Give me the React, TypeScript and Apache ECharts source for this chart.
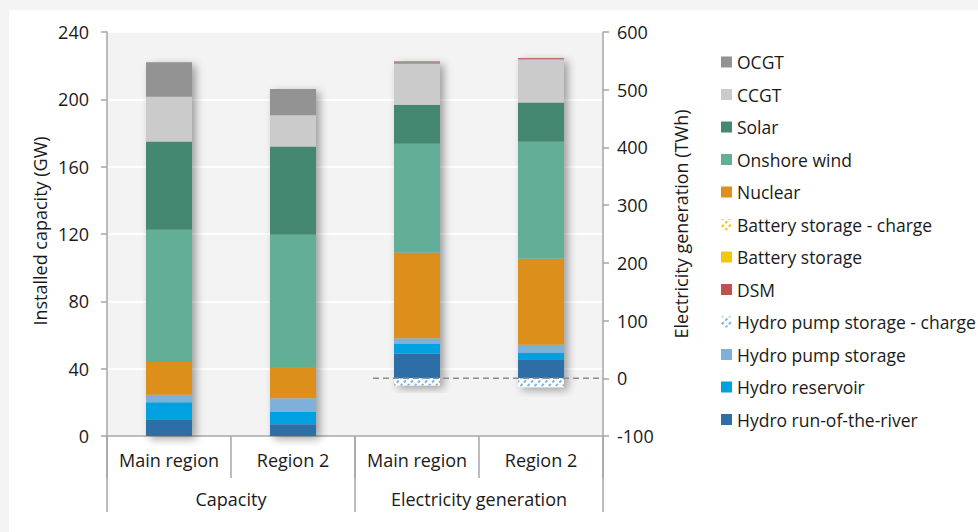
import React, { useEffect, useRef } from 'react';
import * as echarts from 'echarts';

// Category structure
const regions = ['Main region', 'Region 2'];
const groups = ['Capacity', 'Electricity generation'];
const categories = ['Main region', 'Region 2', 'Main region', 'Region 2'];

// Values per category: [capacity main (GW), capacity region 2 (GW), generation main (TWh), generation region 2 (TWh)]
const hydroRunOfRiver = [10, 7, 43, 33];
const hydroReservoir = [10, 7.5, 16.5, 11];
const hydroPumpStorage = [4.5, 8, 10, 14];
const hydroPumpCharge = [0, 0, -12.5, -15.5];
const batteryStorage = [0, 0, 0, 0];
const batteryCharge = [0, 0, 0, 0];
const nuclear = [19.5, 18.5, 148, 149];
const onshoreWind = [78.5, 78.5, 189, 203];
const solar = [52.5, 52.5, 67.5, 68];
const ccgt = [26.5, 18.5, 71, 74.5];
const ocgt = [20.5, 15.7, 3, 1];
const dsm = [0, 0, 1, 1.5];

// Axis ticks
const capacityAxis = { min: 0, max: 240, interval: 40 };
const generationAxis = { min: -100, max: 600, interval: 100 };

const FONT = '"Open Sans", "Noto Sans", sans-serif';
const FS = 18;
const TEXT = '#1a1a1a';
const AXIS = '#a6a6a6';
const BAR_W = 46;

type Tech = { name: string; values: number[]; color: string; hatch?: string };
const techs: Tech[] = [
  { name: 'Hydro run-of-the-river', values: hydroRunOfRiver, color: '#2e6ea6' },
  { name: 'Hydro reservoir', values: hydroReservoir, color: '#00a0e1' },
  { name: 'Hydro pump storage', values: hydroPumpStorage, color: '#7fb0da' },
  { name: 'Hydro pump storage - charge', values: hydroPumpCharge, color: '#ffffff', hatch: '#7fb3e2' },
  { name: 'Battery storage', values: batteryStorage, color: '#f2c80f' },
  { name: 'Battery storage - charge', values: batteryCharge, color: '#ffffff', hatch: '#f2c80f' },
  { name: 'Nuclear', values: nuclear, color: '#dc8f1a' },
  { name: 'Onshore wind', values: onshoreWind, color: '#62ae96' },
  { name: 'Solar', values: solar, color: '#458872' },
  { name: 'CCGT', values: ccgt, color: '#cbcbcb' },
  { name: 'OCGT', values: ocgt, color: '#939393' },
  { name: 'DSM', values: dsm, color: '#c0504d' },
];

const legendOrder = [
  'OCGT', 'CCGT', 'Solar', 'Onshore wind', 'Nuclear', 'Battery storage - charge', 'Battery storage',
  'DSM', 'Hydro pump storage - charge', 'Hydro pump storage', 'Hydro reservoir', 'Hydro run-of-the-river',
];

const decalFor = (c: string) => ({
  symbol: 'rect',
  symbolSize: 1,
  color: c,
  backgroundColor: '#ffffff',
  dashArrayX: [[3, 1.5]],
  dashArrayY: [1.2, 2.8],
  rotation: -Math.PI / 4,
});

const sumPos = (i: number) => techs.reduce((s, t) => s + Math.max(0, t.values[i]), 0);
const sumNeg = (i: number) => techs.reduce((s, t) => s + Math.min(0, t.values[i]), 0);
const orDash = (v: number) => (v === 0 ? '-' : v);

const shadowStyle = {
  color: '#d0d0d0',
  shadowBlur: 8,
  shadowColor: 'rgba(0,0,0,0.35)',
  shadowOffsetX: 4,
  shadowOffsetY: 3,
};

export default function App() {
  const ref = useRef<HTMLDivElement>(null);
  useEffect(() => {
    if (!ref.current) return;
    const chart = echarts.init(ref.current, undefined, { renderer: 'svg' });

    const series: any[] = [];
    // shadow backdrops
    series.push({
      type: 'bar', name: '_shadowCap', xAxisIndex: 0, yAxisIndex: 0, barWidth: BAR_W, barGap: '-100%',
      silent: true, data: [sumPos(0), sumPos(1), '-', '-'], itemStyle: shadowStyle,
    });
    series.push({
      type: 'bar', name: '_shadowGenPos', xAxisIndex: 1, yAxisIndex: 1, barWidth: BAR_W, barGap: '-100%',
      silent: true, data: ['-', '-', sumPos(2), sumPos(3)], itemStyle: shadowStyle,
    });
    series.push({
      type: 'bar', name: '_shadowGenNeg', xAxisIndex: 1, yAxisIndex: 1, barWidth: BAR_W, barGap: '-100%',
      silent: true, data: ['-', '-', orDash(sumNeg(2)), orDash(sumNeg(3))], itemStyle: shadowStyle,
    });

    techs.forEach((t) => {
      const itemStyle: any = { color: t.color };
      if (t.hatch) itemStyle.decal = decalFor(t.hatch);
      series.push({
        type: 'bar', name: t.name, stack: 'cap', xAxisIndex: 0, yAxisIndex: 0, barWidth: BAR_W, barGap: '-100%',
        data: [orDash(t.values[0]), orDash(t.values[1]), '-', '-'], itemStyle,
      });
      series.push({
        type: 'bar', name: t.name, stack: 'gen', xAxisIndex: 1, yAxisIndex: 1, barWidth: BAR_W, barGap: '-100%',
        data: ['-', '-', orDash(t.values[2]), orDash(t.values[3])], itemStyle,
      });
    });

    const labelStyle = { fontFamily: FONT, fontSize: FS, color: TEXT };

    chart.setOption({
      animation: false,
      backgroundColor: '#f4f4f4',
      textStyle: { fontFamily: FONT },
      grid: {
        left: 107, right: 375, top: 32, bottom: 96, containLabel: false,
        show: true, backgroundColor: '#f3f3f3', borderWidth: 0,
      },
      legend: {
        data: legendOrder.map((name) => ({ name, icon: 'rect' })),
        orient: 'vertical', left: 716, top: 47, itemWidth: 11, itemHeight: 11, itemGap: 12.5,
        selectedMode: false,
        textStyle: { ...labelStyle, fontSize: 17.5, lineHeight: 20 },
      },
      xAxis: [
        {
          type: 'category', data: categories, position: 'bottom',
          axisLine: { show: true, lineStyle: { color: AXIS, width: 1.5 } },
          axisTick: { show: true, length: 42, lineStyle: { color: AXIS, width: 1.5 } },
          axisLabel: { ...labelStyle, margin: 15, interval: 0, hideOverlap: false, formatter: (_v: string, i: number) => regions[i % regions.length] },
        },
        { type: 'category', data: categories, position: 'bottom', show: false },
        {
          type: 'category', data: groups, position: 'bottom',
          axisLine: { show: false },
          axisTick: { show: true, length: 76, lineStyle: { color: AXIS, width: 1.5 } },
          axisLabel: { ...labelStyle, margin: 54, interval: 0 },
        },
      ],
      yAxis: [
        {
          type: 'value', position: 'left', ...capacityAxis,
          axisLine: { show: true, lineStyle: { color: AXIS, width: 1.5 } },
          axisTick: { show: true, length: 6, lineStyle: { color: AXIS, width: 1.5 } },
          axisLabel: { ...labelStyle, margin: 18 },
          splitLine: { show: true, lineStyle: { color: '#ffffff', width: 2 } },
        },
        {
          type: 'value', position: 'right', ...generationAxis,
          axisLine: { show: true, lineStyle: { color: AXIS, width: 1.5 } },
          axisTick: { show: true, length: 6, lineStyle: { color: AXIS, width: 1.5 } },
          axisLabel: { ...labelStyle, margin: 14 },
          splitLine: { show: false },
        },
      ],
      graphic: [
        { id: 'panel', type: 'rect', z: -100, silent: true, shape: { x: 9, y: 10, width: 969, height: 522 }, style: { fill: '#ffffff' } },
        {
          id: 'ytitleL', type: 'text', x: 40, y: 231, rotation: Math.PI / 2,
          style: { text: 'Installed capacity (GW)', fontFamily: FONT, fontSize: FS, fill: TEXT, align: 'center', verticalAlign: 'middle' },
        },
        {
          id: 'ytitleR', type: 'text', x: 681, y: 224, rotation: Math.PI / 2,
          style: { text: 'Electricity generation (TWh)', fontFamily: FONT, fontSize: FS, fill: TEXT, align: 'center', verticalAlign: 'middle' },
        },
      ],
      series,
    });

    // zero line of the generation axis, placed through the library's scales
    const y0 = chart.convertToPixel({ yAxisIndex: 1 }, 0) as number;
    const c2 = chart.convertToPixel({ xAxisIndex: 1 }, 2) as number;
    const c3 = chart.convertToPixel({ xAxisIndex: 1 }, 3) as number;
    const step = c3 - c2;
    chart.setOption({
      graphic: [
        {
          id: 'zero', type: 'line', z: 50, silent: true,
          shape: { x1: c2 - step * 0.355, y1: y0, x2: c3 + step / 2, y2: y0 },
          style: { stroke: '#8c8c8c', lineWidth: 1.5, lineDash: [6, 4] },
        },
      ],
    });

    return () => chart.dispose();
  }, []);
  return <div ref={ref} style={{ position: 'fixed', left: 0, top: 0, width: 978, height: 532 }} />;
}
